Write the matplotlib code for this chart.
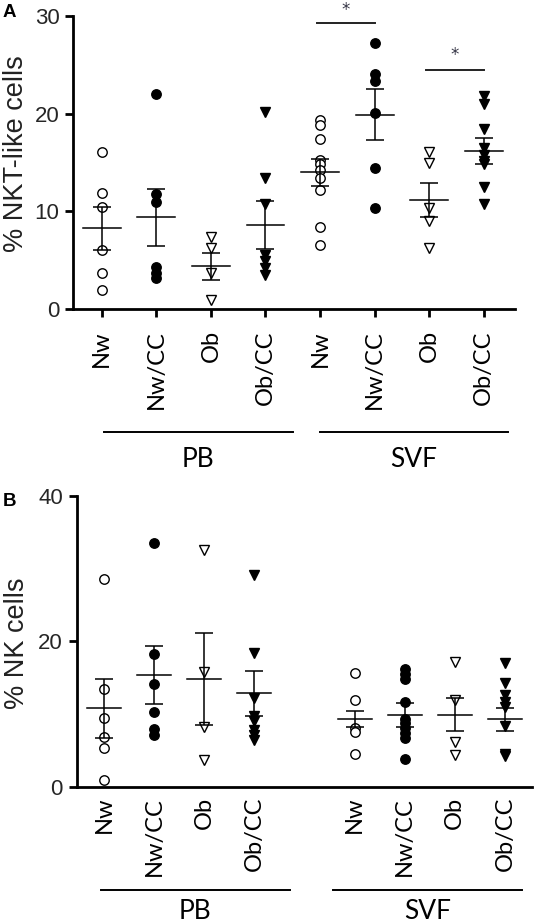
import matplotlib.pyplot as plt
import numpy as np

# ---- data ----
groups = ['Nw', 'Nw/CC', 'Ob', 'Ob/CC', 'Nw', 'Nw/CC', 'Ob', 'Ob/CC']
tissues = ['PB', 'SVF']

# panel A: % NKT-like cells
nkt_points = [
    [16.1, 11.9, 10.5, 6.1, 3.7, 2.0],
    [22.0, 11.8, 11.0, 4.3, 3.7, 3.2],
    [7.4, 6.3, 3.7, 1.0],
    [20.2, 13.4, 10.8, 5.5, 4.9, 4.2, 3.5],
    [19.3, 18.8, 17.4, 15.3, 14.8, 14.2, 13.4, 12.2, 8.4, 6.6],
    [27.2, 24.0, 23.3, 20.1, 14.4, 10.4],
    [16.1, 14.9, 10.3, 9.0, 6.3],
    [21.8, 21.0, 18.4, 16.5, 15.8, 15.2, 14.8, 12.5, 10.8],
]
nkt_mean = [8.3, 9.4, 4.4, 8.6, 14.0, 19.9, 11.2, 16.2]
nkt_sem = [2.2, 2.9, 1.4, 2.45, 1.4, 2.6, 1.75, 1.35]

# panel B: % NK cells
nk_points = [
    [28.5, 13.4, 9.5, 6.9, 5.3, 1.0],
    [33.5, 18.3, 14.2, 10.3, 8.0, 7.2],
    [32.6, 15.8, 8.3, 3.7],
    [29.1, 18.4, 12.2, 9.7, 9.0, 7.9, 7.1, 6.4],
    [15.6, 11.9, 8.1, 7.6, 4.5],
    [16.2, 15.5, 14.8, 11.7, 9.4, 8.75, 8.1, 7.4, 6.7, 3.9],
    [17.2, 11.9, 6.2, 4.4],
    [17.0, 14.3, 12.6, 11.7, 11.0, 8.4, 4.6, 4.2],
]
nk_mean = [10.8, 15.35, 14.85, 12.9, 9.35, 9.85, 9.95, 9.3]
nk_sem = [4.0, 3.95, 6.35, 3.1, 1.15, 1.65, 2.25, 1.6]

# significance (pairs of group index, bar height, star height) for panel A
sig_pairs = [(4, 5, 29.3, 30.6), (6, 7, 24.5, 26.0)]

# ---- styles ----
markers = ['o', 'o', 'v', 'v'] * 2
filled = [False, True, False, True] * 2
tick_col = '#262626'
sans = ['Liberation Sans', 'DejaVu Sans']
cal = ['Lato', 'DejaVu Sans']


def draw_panel(ax, xpos, points, means, sems, half_w):
    for x, pts, m, s, mk, f in zip(xpos, points, means, sems, markers, filled):
        ms = 6.8 if mk == 'o' else 7.2
        ax.plot([x] * len(pts), pts, linestyle='none', marker=mk, ms=ms,
                mfc='black' if f else 'white', mec='black', mew=1.0,
                zorder=3, clip_on=False)
        ax.errorbar(x, m, yerr=s, fmt='none', ecolor='black', elinewidth=1.1,
                    capsize=6.5, capthick=1.1, zorder=4)
        ax.plot([x - half_w, x + half_w], [m, m], color='black', lw=1.1, zorder=4)
    for side in ['top', 'right']:
        ax.spines[side].set_visible(False)
    for side in ['left', 'bottom']:
        ax.spines[side].set_linewidth(2.0)
    ax.set_xticks(xpos)
    ax.set_xticklabels(groups, rotation=90, fontsize=17, family=cal, va='top')
    for lab in ax.get_yticklabels():
        lab.set_family(sans)
        lab.set_fontsize(16)
        lab.set_color(tick_col)


def group_lines(ax, spans, line_y, label_y):
    tr = ax.get_xaxis_transform()
    for (a, b), name in zip(spans, tissues):
        ax.plot([a, b], [line_y, line_y], color='black', lw=1.4,
                transform=tr, clip_on=False)
        ax.text((a + b) / 2, label_y, name, transform=tr, ha='center',
                va='center', fontsize=19, family=cal)


fig = plt.figure(figsize=(5.36, 9.23), dpi=100)
W, H = 536, 923

# ---- panel A ----
axA = fig.add_axes([0.1368, 0.6649, 0.824, 0.3181])
xA = np.arange(8)
draw_panel(axA, xA, nkt_points, nkt_mean, nkt_sem, 0.345)
axA.set_xlim(-0.52, 7.57)
axA.set_ylim(0, 30)
axA.set_yticks([0, 10, 20, 30])
axA.tick_params(axis='both', width=2.0, length=6, pad=4)
axA.tick_params(axis='x', pad=9)
for i, j, h, sh in sig_pairs:
    axA.plot([xA[i] - 0.06, xA[j] + 0.0], [h, h], color='#222222', lw=1.4, clip_on=False)
    axA.text((xA[i] + xA[j]) / 2 - 0.03, sh, '*', ha='center', va='center',
             fontsize=12, color='#333344', clip_on=False)
group_lines(axA, [(0.04, 3.5), (3.99, 7.44)], -0.418, -0.513)

# ---- panel B ----
axB = fig.add_axes([0.1431, 0.1473, 0.8494, 0.3156])
xB = np.array([0, 1, 2, 3, 5, 6, 7, 8])
draw_panel(axB, xB, nk_points, nk_mean, nk_sem, 0.34)
axB.set_xlim(-0.545, 8.54)
axB.set_ylim(0, 40)
axB.set_yticks([0, 20, 40])
axB.tick_params(axis='y', width=2.0, length=6, pad=4)
axB.tick_params(axis='x', length=0, pad=7)
group_lines(axB, [(-0.06, 3.71), (4.57, 8.34)], -0.354, -0.426)

# y labels
fig.text(16 / W, 1 - 154 / H, '% NKT-like cells', rotation=90, ha='center',
         va='center', fontsize=19.5, family=sans, color='#222222')
fig.text(17 / W, 1 - 643 / H, '% NK cells', rotation=90, ha='center',
         va='center', fontsize=19.5, family=sans, color='#222222')

# panel letters
fig.text(3 / W, 1 - 4 / H, 'A', fontsize=13.5, fontweight='bold',
         family=sans, ha='left', va='top')
fig.text(3 / W, 1 - 493 / H, 'B', fontsize=13.5, fontweight='bold',
         family=sans, ha='left', va='top')

fig.savefig('out.png', dpi=100)
